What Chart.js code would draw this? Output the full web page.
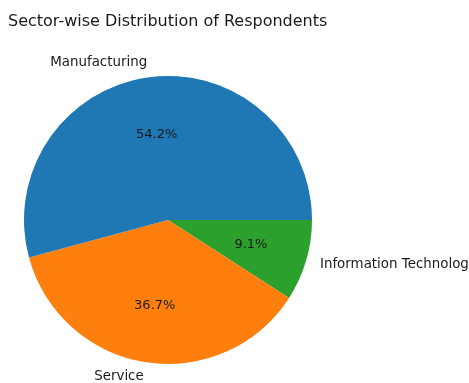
<!DOCTYPE html>
<html>
<head>
<meta charset="utf-8">
<script src="https://cdn.jsdelivr.net/npm/chart.js@4.4.1/dist/chart.umd.min.js"></script>
<style>
  body { margin: 0; background: #fff; }
  #wrap { width: 469px; height: 383px; }
</style>
</head>
<body>
<div id="wrap"><canvas id="sectorChart" width="469" height="383"></canvas></div>
<script>
// sectors in matplotlib order (counter-clockwise from 3 o'clock)
const sectors = ['Manufacturing', 'Service', 'Information Technology'];
const shares = [54.2, 36.7, 9.1];
const sectorColors = ['#1f77b4', '#ff7f0e', '#2ca02c'];
const chartTitle = 'Sector-wise Distribution of Respondents';

// Chart.js goes clockwise, so reverse to get the same layout
const drawLabels = sectors.slice().reverse();
const drawValues = shares.slice().reverse();
const drawColors = sectorColors.slice().reverse();

const pieText = {
    id: 'pieText',
    afterDraw(chart) {
        const ctx = chart.ctx;
        ctx.save();
        ctx.fillStyle = '#1a1a1a';
        ctx.textBaseline = 'middle';
        ctx.font = '16px "DejaVu Sans"';
        ctx.textAlign = 'left';
        ctx.fillText(chartTitle, 8, 22);

        const total = drawValues.reduce((a, b) => a + b, 0);
        chart.getDatasetMeta(0).data.forEach((arc, i) => {
            const mid = (arc.startAngle + arc.endAngle) / 2;
            const r = arc.outerRadius;
            const cx = Math.cos(mid), cy = Math.sin(mid);
            // outer label
            ctx.font = '13.4px "DejaVu Sans"';
            ctx.textAlign = cx >= 0 ? 'left' : 'right';
            ctx.fillText(drawLabels[i], arc.x + cx * r * 1.1, arc.y + cy * r * 1.1);
            // percentage inside
            ctx.font = '13px "DejaVu Sans"';
            ctx.textAlign = 'center';
            const pct = (drawValues[i] / total * 100).toFixed(1) + '%';
            ctx.fillText(pct, arc.x + cx * r * 0.6, arc.y + cy * r * 0.6);
        });
        ctx.restore();
    }
};

new Chart(document.getElementById('sectorChart'), {
    type: 'pie',
    data: {
        labels: drawLabels,
        datasets: [{
            data: drawValues,
            backgroundColor: drawColors,
            borderWidth: 0
        }]
    },
    options: {
        responsive: false,
        animation: false,
        rotation: 90,
        layout: { padding: { left: 24, right: 157, top: 75, bottom: 18 } },
        plugins: {
            legend: { display: false },
            tooltip: { enabled: false }
        }
    },
    plugins: [pieText]
});
</script>
</body>
</html>
